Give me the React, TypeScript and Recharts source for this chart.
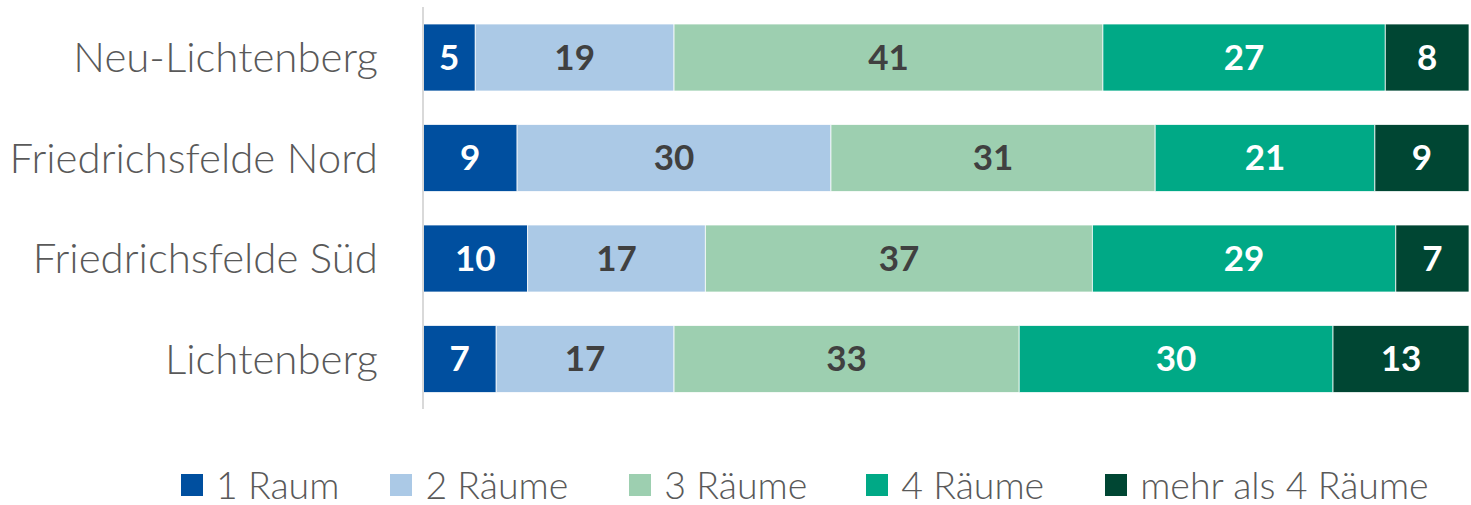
import { Bar, BarChart, LabelList, Legend, XAxis, YAxis } from "recharts"

const districts = ["Neu-Lichtenberg", "Friedrichsfelde Nord", "Friedrichsfelde Süd", "Lichtenberg"]
const oneRoom = [5, 9, 10, 7]
const twoRooms = [19, 30, 17, 17]
const threeRooms = [41, 31, 37, 33]
const fourRooms = [27, 21, 29, 30]
const moreRooms = [8, 9, 7, 13]

const seriesNames = ["1 Raum", "2 Räume", "3 Räume", "4 Räume", "mehr als 4 Räume"]
const seriesColors = ["#004f9f", "#abc9e6", "#9dcfb0", "#00a986", "#004633"]
const labelColors = ["#ffffff", "#404040", "#404040", "#ffffff", "#ffffff"]
const legendGaps = [51, 61, 59, 61, 0]

const data = districts.map((name, i) => ({
    name,
    s0: oneRoom[i],
    s1: twoRooms[i],
    s2: threeRooms[i],
    s3: fourRooms[i],
    s4: moreRooms[i],
}))

const font = "Lato, 'Noto Sans', sans-serif"

function RoomLegend() {
    return (
        <div style={{ display: "flex", alignItems: "center", height: 41, paddingLeft: 181, fontFamily: font, fontWeight: 300, fontSize: 37.5, color: "#595959", whiteSpace: "nowrap" }}>
            {seriesNames.map((n, i) => (
                <div key={n} style={{ display: "flex", alignItems: "center", marginRight: legendGaps[i] }}>
                    <span style={{ display: "inline-block", width: 22, height: 22, background: seriesColors[i], marginRight: 13 }} />
                    <span style={{ lineHeight: "41px" }}>{n}</span>
                </div>
            ))}
        </div>
    )
}

export default function App() {
    return (
        <div style={{ position: "absolute", left: 0, top: 0, width: 1471, height: 505, background: "#fff" }}>
            <BarChart
                width={1471}
                height={505}
                layout="vertical"
                data={data}
                margin={{ top: 7, right: 2, left: 0, bottom: 96 }}
                barSize={67}
            >
                <XAxis type="number" domain={[0, 100]} hide />
                <YAxis
                    type="category"
                    dataKey="name"
                    width={423}
                    tickLine={false}
                    tickSize={0}
                    tickMargin={45}
                    axisLine={{ stroke: "#d9d9d9", strokeWidth: 2 }}
                    tick={{ fontSize: 42, fontWeight: 300, fill: "#595959", fontFamily: font }}
                />
                <Legend
                    layout="horizontal"
                    verticalAlign="middle"
                    align="center"
                    wrapperStyle={{ top: 464, left: 0, width: 1471, height: 41 }}
                    content={() => <RoomLegend />}
                />
                {seriesNames.map((n, i) => (
                    <Bar
                        key={n}
                        dataKey={`s${i}`}
                        name={n}
                        stackId="a"
                        fill={seriesColors[i]}
                        stroke="#ffffff"
                        strokeWidth={0.75}
                        isAnimationActive={false}
                    >
                        <LabelList
                            dataKey={`s${i}`}
                            position="center"
                            fill={labelColors[i]}
                            style={{ fontSize: 35, fontWeight: 700, fontFamily: font }}
                        />
                    </Bar>
                ))}
            </BarChart>
        </div>
    )
}
